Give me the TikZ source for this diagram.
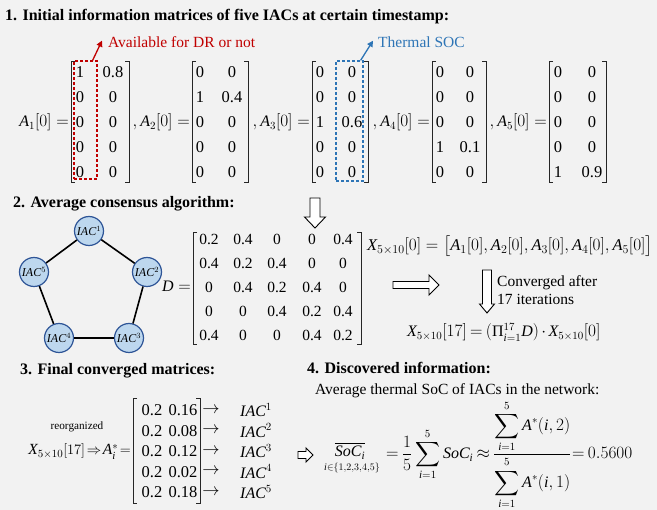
\documentclass[tikz,border=0pt]{standalone}
\usepackage{amsmath}
\usepackage{fontspec}
\setmainfont{Liberation Serif}[NFSSFamily=libser]
\usetikzlibrary{arrows.meta}
\DeclareSymbolFont{tmsit}{TU}{libser}{m}{it}
\newcount\mycnt
\mycnt=`A
\loop \Umathcode\mycnt=7 \symtmsit \mycnt \ifnum\mycnt<`Z \advance\mycnt by 1 \repeat
\mycnt=`a
\loop \Umathcode\mycnt=7 \symtmsit \mycnt \ifnum\mycnt<`z \advance\mycnt by 1 \repeat
\definecolor{bgc}{HTML}{F2F2F2}
\definecolor{dred}{HTML}{C00000}
\definecolor{mblue}{HTML}{2E75B6}
\definecolor{nfill}{HTML}{BDD7EE}
\definecolor{nline}{HTML}{2F5597}
\newcommand\mbrk[4]{%
  \draw[brk] (#1+4,#3) -- (#1,#3) -- (#1,#4) -- (#1+4,#4);
  \draw[brk] (#2-4,#3) -- (#2,#3) -- (#2,#4) -- (#2-4,#4);}
\newcommand\harrow[7]{%
  \begin{scope}[shift={(#1,#2)},rotate=#3]
  \draw[hol] (0,-#5/2) -- (#4-#7,-#5/2) -- (#4-#7,-#6/2) -- (#4,0) -- (#4-#7,#6/2) -- (#4-#7,#5/2) -- (0,#5/2) -- cycle;
  \end{scope}}
\begin{document}
\begin{tikzpicture}[x=1pt,y=-1pt,
  ttl/.style={font=\fontsize{16}{19}\selectfont\bfseries, inner sep=0, anchor=base west},
  txt/.style={font=\fontsize{15.5}{18}\selectfont, inner sep=0},
  ent/.style={font=\fontsize{16.5}{19}\selectfont, inner sep=0, text height=11.2pt, text depth=0pt},
  entd/.style={font=\fontsize{15.5}{19}\selectfont, inner sep=0, text height=10.6pt, text depth=0pt},
  eq/.style={font=\fontsize{16}{19}\selectfont, inner sep=0},
  tight/.style={execute at begin node={\thickmuskip=3.5mu plus 2mu\medmuskip=2.5mu}},
  brk/.style={line width=0.8pt, draw=black!85},
  hol/.style={draw=black, fill=white, line width=0.9pt, line join=miter},
  iac/.style={circle, draw=nline, fill=nfill, minimum size=29pt, inner sep=0, line width=1.2pt, font=\fontsize{12}{13}\selectfont},
  link/.style={line width=1.6pt, draw=black}]
\fill[bgc] (0,0) rectangle (657,510);
\useasboundingbox (0,0) rectangle (657,510);

% ---------- Section 1 ----------
\node[ttl] (t1) at (5,21) {1. Initial information matrices of five IACs at certain timestamp:};

\node[eq, anchor=base east] (l1) at (69,127) {$A_1[0]=$};
\node[eq, anchor=base east] (l2) at (190,127) {$,A_2[0]=$};
\node[eq, anchor=base east] (l3) at (310,127) {$,A_3[0]=$};
\node[eq, anchor=base east] (l4) at (430,127) {$,A_4[0]=$};
\node[eq, anchor=base east] (l5) at (547,127) {$,A_5[0]=$};

\mbrk{71}{129}{61}{182}
\mbrk{192}{248}{61}{182}
\mbrk{312}{368}{61}{182}
\mbrk{432}{486}{61}{182}
\mbrk{549}{606}{61}{182}

\foreach \v [count=\r] in {1,0,0,0,0} \node[ent] (a1x\r) at (80,47+25*\r) {\v};
\foreach \v [count=\r] in {0.8,0,0,0,0} \node[ent] (a1y\r) at (113,47+25*\r) {\v};
\foreach \v [count=\r] in {0,1,0,0,0} \node[ent] (a2x\r) at (200,47+25*\r) {\v};
\foreach \v [count=\r] in {0,0.4,0,0,0} \node[ent] (a2y\r) at (232,47+25*\r) {\v};
\foreach \v [count=\r] in {0,0,1,0,0} \node[ent] (a3x\r) at (320,47+25*\r) {\v};
\foreach \v [count=\r] in {0,0,0.6,0,0} \node[ent] (a3y\r) at (352,47+25*\r) {\v};
\foreach \v [count=\r] in {0,0,0,1,0} \node[ent] (a4x\r) at (440,47+25*\r) {\v};
\foreach \v [count=\r] in {0,0,0,0.1,0} \node[ent] (a4y\r) at (470,47+25*\r) {\v};
\foreach \v [count=\r] in {0,0,0,0,1} \node[ent] (a5x\r) at (558,47+25*\r) {\v};
\foreach \v [count=\r] in {0,0,0,0,0.9} \node[ent] (a5y\r) at (592,47+25*\r) {\v};

\node[draw=dred, dash pattern=on 3pt off 2pt, line width=1.2pt, inner sep=0, minimum width=23pt, minimum height=118pt] (rbox) at (85.5,120) {};
\node[draw=mblue, dash pattern=on 3pt off 2pt, line width=1.2pt, inner sep=0, minimum width=27pt, minimum height=120pt] (bbox) at (349.5,121) {};
\node[txt, anchor=base west, text=dred] (avl) at (108,48) {Available for DR or not};
\node[txt, anchor=base west, text=mblue] (tsoc) at (378,48) {Thermal SOC};
\draw[-{Triangle[length=6pt,width=6pt]}, dred, line width=1.3pt] ([xshift=-5pt]rbox.north east) -- ([xshift=-6pt,yshift=2pt]avl.west);
\draw[-{Triangle[length=6pt,width=6pt]}, mblue, line width=1.3pt] ([xshift=-3pt]bbox.north east) -- ([xshift=-5pt,yshift=2pt]tsoc.west);

% ---------- Section 2 ----------
\node[ttl] (t2) at (13,208) {2. Average consensus algorithm:};

\node[iac] (n1) at (89,231) {\itshape IAC$^{1}$};
\node[iac] (n2) at (147,272) {\itshape IAC$^{2}$};
\node[iac] (n3) at (129,338) {\itshape IAC$^{3}$};
\node[iac] (n4) at (59,338) {\itshape IAC$^{4}$};
\node[iac] (n5) at (34,272) {\itshape IAC$^{5}$};
\draw[link] (n1) -- (n2);
\draw[link] (n2) -- (n3);
\draw[link] (n3) -- (n4);
\draw[link] (n4) -- (n5);
\draw[link] (n5) -- (n1);

\node[eq, anchor=base east] (dl) at (191,292) {$D=$};
\mbrk{193}{361}{232}{344}
\foreach \v [count=\r] in {0.2,0.4,0,0,0.4} \node[entd] (d1\r) at (209,215+24*\r) {\v};
\foreach \v [count=\r] in {0.4,0.2,0.4,0,0} \node[entd] (d2\r) at (243,215+24*\r) {\v};
\foreach \v [count=\r] in {0,0.4,0.2,0.4,0} \node[entd] (d3\r) at (277,215+24*\r) {\v};
\foreach \v [count=\r] in {0,0,0.4,0.2,0.4} \node[entd] (d4\r) at (312,215+24*\r) {\v};
\foreach \v [count=\r] in {0.4,0,0,0.4,0.2} \node[entd] (d5\r) at (343,215+24*\r) {\v};

\harrow{315}{198}{-90}{30}{10}{21}{11}
\node[eq, font=\fontsize{16.4}{19}\selectfont, anchor=base west] (x0) at (367,251) {$X_{5\times10}[0]=\bigl[A_1[0],A_2[0],A_3[0],A_4[0],A_5[0]\bigr]$};
\harrow{393}{285}{0}{46}{7}{20}{10}
\harrow{487}{270}{-90}{43}{9}{15}{9}
\node[txt, anchor=base west] (cv1) at (497,287) {Converged after};
\node[txt, anchor=base west] (cv2) at (497,305) {17 iterations};
\node[eq, tight, anchor=base west] (x17) at (407,337) {$X_{5\times10}[17]=(\mbox{Π}_{i=1}^{17}D)\cdot X_{5\times10}[0]$};

% ---------- Section 3 ----------
\node[ttl] (t3) at (20,375) {3. Final converged matrices:};
\node[font=\fontsize{11.2}{13}\selectfont, inner sep=0] (reo) at (77,427) {reorganized};
\node[font=\fontsize{15.5}{19}\selectfont, inner sep=0, anchor=base east] (x17b) at (131,455) {$X_{5\times10}[17]\!\Rightarrow\! A_i^{*}\!=$};
\mbrk{133}{200}{398}{503}
\foreach \v [count=\r] in {0.16,0.08,0.12,0.02,0.18} {
  \node[ent] (f1\r) at (152,389.5+20.5*\r) {0.2};
  \node[ent] (f2\r) at (183,389.5+20.5*\r) {\v};
  \node[eq] (fa\r) at (211,389.5+20.5*\r) {$\rightarrow$};
  \node[eq, anchor=west] (fi\r) at (240,389.5+20.5*\r) {$IAC^{\r}$};
}

% ---------- Section 4 ----------
\node[ttl] (t4) at (307,374) {4. Discovered information:};
\node[txt, anchor=base west] (avg) at (315,395) {Average thermal SoC of IACs in the network:};
\harrow{298}{455}{0}{15}{7}{14}{7}
\node[eq] (socb) at (350,451) {$\overline{SoC_{i}}$};
\node[font=\fontsize{10}{11}\selectfont, inner sep=0] (socs) at (352,468) {$i{\in}\{1{,}2{,}3{,}4{,}5\}$};
\node[eq, tight, anchor=base west] (mid) at (386,459) {$\displaystyle=\frac{1}{5}\sum_{i=1}^{5}SoC_i\approx$};
\node[eq, anchor=base west] (bfrac) at (493,459) {$\displaystyle\frac{\displaystyle\sum_{i=1}^{5}A^{*}(i,2)}{\displaystyle\sum_{i=1}^{5}A^{*}(i,1)}$};
\node[eq, tight, anchor=base west] (res) at (572,459) {$=0.5600$};
\end{tikzpicture}
\end{document}
